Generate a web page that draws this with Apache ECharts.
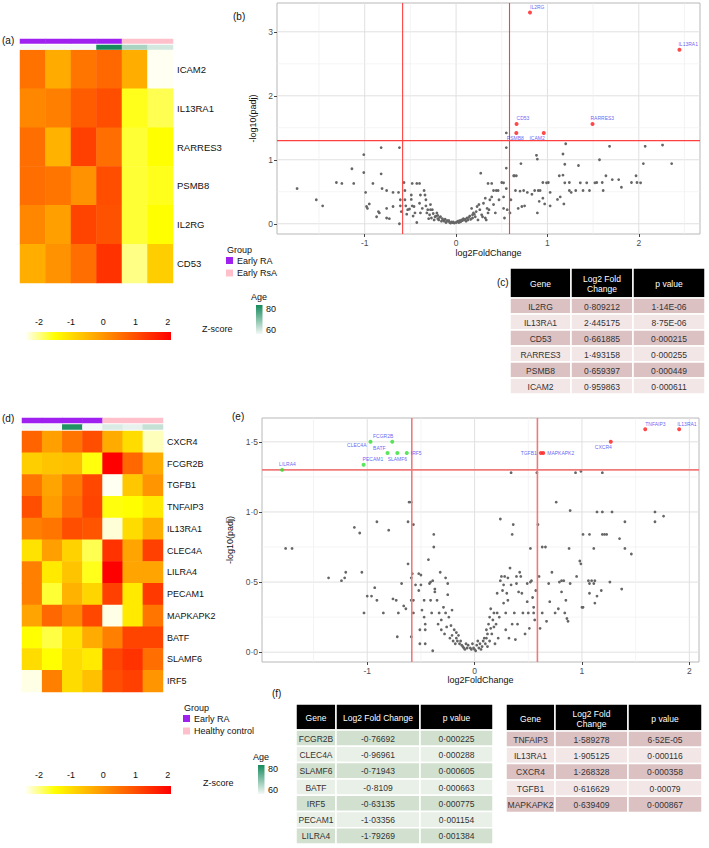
<!DOCTYPE html>
<html>
<head>
<meta charset="utf-8">
<script src="https://cdn.jsdelivr.net/npm/echarts@6/dist/echarts.min.js"></script>
<style>html,body{margin:0;padding:0;background:#fff}#chart{width:709px;height:848px}</style>
</head>
<body>
<div id="chart"></div>
<script>
// ---- data ----
const samplesA = ['s1', 's2', 's3', 's4', 's5', 's6'];
const genesA = ['ICAM2', 'IL13RA1', 'RARRES3', 'PSMB8', 'IL2RG', 'CD53'];
const zA = [
  [0.5, -0.3, 0.45, 0.65, -0.35, -2.4],
  [0.2, 0.3, 0.8, 1.0, -1.6, -1.8],
  [0.55, -0.4, 1.2, 0.55, -1.7, -1.5],
  [0.55, 0.45, 0.05, 1.0, -1.7, -1.6],
  [0.2, -0.15, 1.15, 0.95, -1.7, -1.5],
  [-0.35, 0.05, 0.55, 1.4, -2.0, -0.8]
];
const groupA = [0, 0, 0, 0, 1, 1];
const ageA = [60, 60, 60, 80, 66.7, 63];
const groupNamesA = ['Early RA', 'Early RsA'];

const samplesD = ['s1', 's2', 's3', 's4', 's5', 's6', 's7'];
const genesD = ['CXCR4', 'FCGR2B', 'TGFB1', 'TNFAIP3', 'IL13RA1', 'CLEC4A', 'LILRA4', 'PECAM1', 'MAPKAPK2', 'BATF', 'SLAMF6', 'IRF5'];
const zD = [
  [0.7, -0.15, 0.45, 1.0, -0.3, -1.0, -2.2],
  [-0.8, -0.65, -0.6, -1.55, 2.1, 0.65, -0.3],
  [0.45, -0.2, 0.4, 1.1, -2.4, -0.7, 0.0],
  [1.0, -0.1, 0.55, 1.15, -1.55, -1.5, -1.2],
  [0.3, 0.45, 1.0, 0.9, -2.3, -1.0, -0.35],
  [-1.1, -0.15, -0.85, -1.8, 1.4, -0.2, 1.2],
  [0.3, -1.2, -0.65, -1.6, 2.1, -0.2, -0.2],
  [0.3, -1.7, -0.4, -0.9, 1.2, -1.2, 1.3],
  [-0.2, 0.65, 0.2, 1.1, -2.35, -1.2, 0.45],
  [-1.5, -1.75, -1.1, -0.3, 0.3, 1.15, 1.15],
  [-1.0, -1.5, -1.0, -1.2, 1.1, 1.4, 0.55],
  [-2.35, 0.3, -1.0, -0.6, 1.0, 1.2, 0.0]
];
const groupD = [0, 0, 0, 0, 1, 1, 1];
const ageD = [60, 60, 79, 60, 62.4, 61.2, 64.2];
const groupNamesD = ['Early RA', 'Healthy control'];

const zTicks = [-2, -1, 0, 1, 2];
const ageTicks = [80, 60];

// volcano (b)
const grayB = [
  [-1.74,0.55],[-1.53,0.375],[-1.46,0.28],[-1.31,0.645],[-1.25,0.63],[-1.14,0.86],[-1.12,0.63],[-1.01,0.80],[-1.01,1.08],
  [-0.99,0.49],[-0.98,0.27],[-0.97,0.24],[-0.95,0.31],[-0.91,0.63],[-0.87,0.11],[-0.85,0.19],[-0.84,0.17],[-0.82,1.19],
  [-0.82,0.78],[-0.81,0.55],[-0.76,0.52],[-0.76,0.24],[-0.76,0.09],[-0.73,0.08],[-0.69,0.49],[-0.69,0.27],[-0.63,0.49],
  [-0.62,1.19],[-0.62,0.0],[-0.61,0.375],[-0.61,0.28],[-0.60,0.19],[-0.57,0.645],[-0.56,0.52],[-0.56,0.375],[-0.55,0.28],
  [-0.54,0.15],[-0.53,0.22],[-0.51,0.23],[-0.49,0.45],[-0.49,0.38],[-0.48,0.28],[-0.48,0.63],[-0.47,0.12],[-0.46,0.27],
  [-0.45,0.17],[-0.43,0.63],[-0.43,0.02],[-0.40,0.63],[-0.40,0.32],[-0.39,0.45],[-0.39,0.17],[-0.37,0.24],[-0.35,0.52],
  [-0.34,0.45],[-0.33,0.28],[-0.33,0.375],[-0.32,0.17],[-0.31,0.22],[-0.30,0.08],[-0.29,0.14],[-0.28,0.30],[-0.28,0.22],
  [-0.27,0.09],[-0.26,0.22],[-0.25,0.16],[-0.24,0.06],[-0.23,0.11],[-0.21,0.17],[-0.20,0.08],[-0.19,0.06],[-0.18,0.10],
  [-0.16,0.04],[-0.14,0.06],[-0.13,0.04],[-0.11,0.02],[-0.09,0.04],[-0.07,0.02],[-0.06,0.01],[-0.04,0.02],[-0.02,0.01],
  [0.0,0.02],[0.02,0.04],[0.04,0.05],[0.06,0.06],[0.08,0.08],[-0.15,0.08],[-0.12,0.07],[-0.10,0.05],[-0.08,0.05],
  [-0.05,0.03],[-0.03,0.03],[0.01,0.03],[0.03,0.02],[0.05,0.03],[0.07,0.05],[0.09,0.06],[0.10,0.07],[0.12,0.09],
  [0.14,0.10],[0.15,0.12],[0.11,0.04],[0.13,0.06],[0.16,0.07],[-0.22,0.12],[-0.20,0.13],[-0.17,0.11],[0.18,0.14],[0.20,0.15],
  [0.17,0.24],[0.19,0.17],[0.21,0.11],[0.23,0.27],[0.24,0.06],[0.26,0.22],[0.28,0.14],[0.30,0.32],[0.32,0.09],[0.34,0.24],
  [0.35,0.17],[0.37,0.375],[0.18,0.09],[0.22,0.19],[0.25,0.30],[0.29,0.11],[0.33,0.06],[0.36,0.22],[0.27,0.79],[0.35,0.63],
  [0.39,0.63],[0.32,0.40],[0.39,0.42],[0.41,0.52],[0.44,0.52],[0.46,0.52],[0.41,0.30],[0.43,0.17],[0.47,0.375],[0.50,0.645],
  [0.52,0.64],[0.52,0.42],[0.52,0.24],[0.53,0.09],[0.55,1.42],[0.55,1.19],[0.55,0.87],[0.55,0.55],[0.56,0.22],[0.59,0.17],
  [0.60,0.375],[0.63,0.75],[0.64,0.75],[0.66,0.75],[0.65,0.52],[0.68,0.24],[0.70,0.51],[0.71,0.94],[0.72,0.27],[0.74,0.52],
  [0.75,0.28],[0.78,0.49],[0.83,0.46],[0.86,0.52],[0.88,1.07],[0.89,1.01],[0.89,0.17],[0.90,0.52],[0.91,0.35],[0.92,0.52],
  [0.95,0.645],[0.95,0.40],[0.97,0.31],[0.99,0.64],[1.01,0.645],[1.03,0.49],[1.03,0.28],[1.11,0.38],[1.13,0.75],[1.14,0.42],
  [1.17,0.76],[1.17,1.09],[1.18,0.31],[1.19,0.64],[1.19,0.93],[1.20,1.25],[1.24,0.645],[1.24,0.52],[1.26,0.49],[1.31,0.52],
  [1.34,0.91],[1.36,0.64],[1.39,0.52],[1.43,0.64],[1.46,0.52],[1.52,0.64],[1.54,0.645],[1.57,1.00],[1.60,0.645],[1.61,0.52],
  [1.64,0.75],[1.68,1.21],[1.71,0.69],[1.78,0.69],[1.81,0.57],[1.92,0.645],[1.97,0.75],[1.98,0.645],[2.02,0.64],[2.05,0.94],
  [2.07,1.21],[2.26,1.23],[2.36,0.94]
];
const sigGenesB = ['IL2RG', 'IL13RA1', 'CD53', 'RARRES3', 'PSMB8', 'ICAM2'];
const sigFcB = [0.809212, 2.445175, 0.661885, 1.493158, 0.659397, 0.959863];
const sigPadjB = [3.30, 2.72, 1.56, 1.56, 1.42, 1.42];
const pC = ['1·14E-06', '8·75E-06', '0·000215', '0·000255', '0·000449', '0·000611'];

// volcano (e)
const grayE = [
  [-1.76,0.74],[-1.70,0.74],[-1.36,0.53],[-1.24,0.51],[-1.21,0.53],[-1.20,0.57],[-1.12,0.89],[-1.07,0.85],[-1.05,0.57],
  [-1.03,0.28],[-1.00,0.40],[-0.96,0.40],[-0.93,0.46],[-0.91,0.93],[-0.91,0.37],[-0.85,0.28],[-0.80,0.87],[-0.76,0.38],
  [-0.73,0.37],[-0.72,0.11],[-0.71,0.28],[-0.68,0.49],[-0.66,0.33],[-0.64,0.31],[-0.62,0.63],[-0.62,0.93],[-0.61,1.07],
  [-0.59,1.07],[-0.59,0.53],[-0.59,0.37],[-0.59,0.11],[-0.58,0.56],[-0.57,0.91],[-0.57,0.37],[-0.57,0.28],[-0.55,0.48],
  [-0.52,0.56],[-0.52,0.44],[-0.50,0.55],[-0.49,0.30],[-0.47,0.25],[-0.46,0.20],[-0.46,0.16],[-0.51,0.06],[-0.51,0.16],
  [-0.50,0.48],[-0.47,0.37],[-0.46,0.06],[-0.43,0.66],[-0.42,0.49],[-0.41,0.37],[-0.41,0.50],[-0.40,0.28],[-0.39,0.51],
  [-0.39,0.01],[-0.38,0.84],[-0.38,0.75],[-0.37,0.45],[-0.37,0.43],[-0.35,0.37],[-0.34,0.20],[-0.33,0.28],[-0.32,0.57],
  [-0.31,0.16],[-0.31,0.23],[-0.29,0.32],[-0.28,0.13],[-0.27,0.28],[-0.27,0.53],[-0.26,0.18],[-0.25,0.49],[-0.25,0.41],
  [-0.24,0.25],[-0.23,0.10],[-0.22,0.19],[-0.21,0.30],[-0.20,0.08],[-0.19,0.16],[-0.18,0.06],[-0.17,0.10],[-0.16,0.08],
  [-0.14,0.06],[-0.13,0.08],[-0.11,0.04],[-0.10,0.03],[-0.08,0.06],[-0.07,0.03],[-0.04,0.03],[-0.03,0.02],[-0.01,0.03],
  [0.00,0.02],[0.02,0.05],[0.04,0.03],[0.05,0.06],[0.07,0.04],[0.08,0.08],[0.10,0.06],[0.11,0.10],[0.11,0.16],[0.13,0.20],
  [0.14,0.08],[0.14,0.25],[0.15,0.31],[0.16,0.13],[0.17,0.23],[0.18,0.28],[0.18,0.18],[0.19,0.06],[0.20,0.20],[0.21,0.42],
  [0.21,0.28],[0.22,0.10],[0.23,0.25],[0.24,0.95],[0.24,0.51],[0.25,0.54],[0.26,0.44],[0.27,0.35],[0.27,0.48],[0.28,0.54],
  [0.29,0.28],[0.29,0.16],[0.30,0.42],[0.31,0.53],[0.31,0.37],[0.32,0.10],[0.33,0.60],[0.34,0.48],[0.35,0.20],[0.35,0.84],
  [0.36,0.91],[0.37,0.28],[0.38,0.09],[0.39,0.54],[0.39,0.49],[0.40,0.20],[0.41,0.43],[0.42,0.57],[0.43,0.54],[0.44,0.42],
  [0.45,0.28],[0.47,0.13],[0.49,0.49],[0.49,0.36],[0.50,0.28],[0.51,0.17],[0.52,0.50],[0.52,0.74],[0.53,0.51],[0.54,0.39],
  [0.55,0.32],[0.55,0.28],[0.56,0.23],[0.57,0.44],[0.58,1.28],[0.59,0.91],[0.60,0.54],[0.61,0.17],[0.63,0.28],[0.63,0.75],
  [0.66,0.75],[0.67,0.22],[0.69,0.49],[0.70,0.36],[0.72,0.57],[0.75,0.28],[0.76,1.07],[0.78,0.31],[0.79,0.50],[0.81,0.43],
  [0.81,0.51],[0.83,0.51],[0.84,0.28],[0.85,0.37],[0.86,0.24],[0.87,0.22],[0.88,0.74],[0.89,1.01],[0.89,0.49],[0.94,1.28],
  [0.95,0.54],[0.98,0.65],[0.99,0.63],[0.99,1.29],[1.00,0.32],[1.01,0.84],[1.01,0.32],[1.06,0.51],[1.07,0.49],[1.07,0.84],
  [1.07,0.42],[1.09,0.51],[1.11,0.49],[1.11,0.74],[1.12,0.35],[1.12,0.51],[1.14,0.40],[1.14,1.00],[1.19,1.28],[1.19,1.00],
  [1.19,0.84],[1.18,0.44],[1.21,0.84],[1.23,0.84],[1.26,0.50],[1.28,1.00],[1.35,0.81],[1.37,0.45],[1.40,0.93],[1.40,0.74],
  [1.46,0.70],[1.68,1.00],[1.68,0.93],[1.76,0.97],[0.34,1.28],
  [-0.12,0.05],[-0.09,0.02],[-0.06,0.05],[-0.02,0.06],[0.01,0.01],[0.03,0.08],[0.06,0.02],[0.09,0.10],[0.12,0.13],
  [-0.15,0.12],[-0.17,0.14],[-0.21,0.12],[0.15,0.17],[0.12,0.04]
];
const downGenesE = ['FCGR2B', 'CLEC4A', 'SLAMF6', 'BATF', 'IRF5', 'PECAM1', 'LILRA4'];
const downFcE = [-0.76692, -0.96961, -0.71943, -0.8109, -0.63135, -1.03356, -1.79269];
const downPadjE = [1.50, 1.50, 1.42, 1.42, 1.42, 1.336, 1.30];
const downPE = ['0·000225', '0·000288', '0·000605', '0·000663', '0·000775', '0·001154', '0·001384'];
const upGenesE = ['TNFAIP3', 'IL13RA1', 'CXCR4', 'TGFB1', 'MAPKAPK2'];
const upFcE = [1.589278, 1.905125, 1.268328, 0.616629, 0.639409];
const upPadjE = [1.59, 1.59, 1.50, 1.42, 1.42];
const upPE = ['6·52E-05', '0·000116', '0·000358', '0·00079', '0·000867'];

const fcCut = 0.585;
const padjCut = 1.3;
const ticksBx = [-1, 0, 1, 2];
const ticksBy = [0, 1, 2, 3];
const minorBx = [-1.5, -0.5, 0.5, 1.5, 2.5];
const minorBy = [0.5, 1.5, 2.5];
const ticksEx = [-1, 0, 1, 2];
const ticksEy = [0, 0.5, 1, 1.5];
const minorEx = [-1.5, -0.5, 0.5, 1.5];
const minorEy = [0.25, 0.75, 1.25];

// ---- styling ----
const FONT = "'Liberation Sans', Arial, sans-serif";
const zMin = -2.4, zMax = 2.1;
const zColors = ['#fffff2', '#ffff00', '#ffc000', '#ff8000', '#ff4000', '#ff0000'];
const ageColors = ['#f4f8f6', '#168a5c'];
const groupColors = ['#a020f0', '#ffc0cb'];
const labelBlue = '#3a3af0';

const fmtDot = v => String(v).replace('.', '·');

function cells(m) {
  const out = [];
  m.forEach((row, r) => row.forEach((v, c) => out.push([c, r, v])));
  return out;
}
function annot(arr) { return arr.map((v, c) => [c, 0, v]); }

const chart = echarts.init(document.getElementById('chart'), null, { renderer: 'svg' });

const heatGrids = [
  { left: 20, top: 50, width: 153, height: 233 },
  { left: 20, top: 39, width: 153, height: 4.5 },
  { left: 20, top: 45, width: 153, height: 4.5 },
  { left: 22, top: 431, width: 141, height: 261 },
  { left: 22, top: 418, width: 141, height: 5 },
  { left: 22, top: 424.5, width: 141, height: 5 }
];
const volcGrids = [
  { left: 277, top: 3, width: 423, height: 231, show: true, borderColor: '#b8b8b8', borderWidth: 1 },
  { left: 262, top: 418, width: 437, height: 244, show: true, borderColor: '#b8b8b8', borderWidth: 1 }
];

const hiddenX = d => ({ type: 'category', data: d, show: false });
const hiddenY = { type: 'category', data: ['a'], show: false };
const geneY = (genes, gi, fs) => ({
  type: 'category', data: genes, gridIndex: gi, inverse: true, position: 'right',
  axisLine: { show: false }, axisTick: { show: false }, splitLine: { show: false },
  axisLabel: { color: '#111', fontSize: fs, fontFamily: FONT, margin: 4 }
});

function valueAxis(gi, min, max, ticks, name, gap, fmt) {
  return {
    type: 'value', gridIndex: gi, min: min, max: max,
    name: name, nameLocation: 'middle', nameGap: gap,
    nameTextStyle: { fontSize: 9, color: '#111', fontFamily: FONT },
    axisLine: { show: false, onZero: false },
    axisTick: { show: true, length: 3, customValues: ticks, lineStyle: { color: '#444' } },
    axisLabel: { customValues: ticks, fontSize: 8.5, color: '#4d4d4d', fontFamily: FONT, margin: 4, formatter: fmt },
    splitLine: { show: false }
  };
}

const xAxes = [
  Object.assign(hiddenX(samplesA), { gridIndex: 0 }),
  Object.assign(hiddenX(samplesA), { gridIndex: 1 }),
  Object.assign(hiddenX(samplesA), { gridIndex: 2 }),
  Object.assign(hiddenX(samplesD), { gridIndex: 3 }),
  Object.assign(hiddenX(samplesD), { gridIndex: 4 }),
  Object.assign(hiddenX(samplesD), { gridIndex: 5 }),
  valueAxis(6, -1.96, 2.67, ticksBx, 'log2FoldChange', 14, v => String(v)),
  valueAxis(7, -1.98, 2.09, ticksEx, 'log2FoldChange', 11, v => String(v))
];
const yAxes = [
  geneY(genesA, 0, 9.5),
  Object.assign({}, hiddenY, { gridIndex: 1 }),
  Object.assign({}, hiddenY, { gridIndex: 2 }),
  geneY(genesD, 3, 9),
  Object.assign({}, hiddenY, { gridIndex: 4 }),
  Object.assign({}, hiddenY, { gridIndex: 5 }),
  valueAxis(6, -0.16, 3.45, ticksBy, '-log10(padj)', 11, v => String(v)),
  valueAxis(7, -0.07, 1.67, ticksEy, '-log10(padj)', 15, v => v.toFixed(1).replace('.', '·'))
];

function heat(xi, data) {
  return { type: 'heatmap', xAxisIndex: xi, yAxisIndex: xi, data: data, itemStyle: { borderWidth: 0 }, emphasis: { disabled: true }, progressive: 0 };
}

// reference lines across the panel: rows of [direction (0 vertical, 1 horizontal), value, style key]
function refLines(xi, rows, styles, z) {
  return {
    type: 'custom', xAxisIndex: xi, yAxisIndex: xi, silent: true, z: z, clip: false,
    data: rows,
    renderItem: function (params, api) {
      const cs = params.coordSys;
      const dir = api.value(0), v = api.value(1), st = styles[api.value(2)];
      let shape;
      if (dir === 0) {
        const px = api.coord([v, 0])[0];
        shape = { x1: px, y1: cs.y, x2: px, y2: cs.y + cs.height };
      } else {
        const py = api.coord([0, v])[1];
        shape = { x1: cs.x, y1: py, x2: cs.x + cs.width, y2: py };
      }
      return { type: 'line', shape: shape, style: { stroke: st.color, lineWidth: st.width, fill: null } };
    }
  };
}
const gridStyles = [{ color: '#e0e0e0', width: 1 }, { color: '#efefef', width: 0.7 }];
function gridRows(mx, my, nx, ny) {
  return mx.map(v => [0, v, 0]).concat(my.map(v => [1, v, 0]), nx.map(v => [0, v, 1]), ny.map(v => [1, v, 1]));
}
const cutRows = [[0, -fcCut, 0], [0, fcCut, 0], [1, padjCut, 0]];

function grayPts(xi, pts) {
  return { type: 'scatter', xAxisIndex: xi, yAxisIndex: xi, data: pts, symbolSize: 2.8, z: 3,
    itemStyle: { color: '#666', opacity: 1 }, emphasis: { disabled: true } };
}
// label placement: [position, align, offsetX, offsetY]
const labelPos = {
  B: {
    IL2RG: ['top', 'left', 0, 1], IL13RA1: ['top', 'left', -1, 1], CD53: ['top', 'left', 0, 1],
    RARRES3: ['top', 'left', -2, 1], PSMB8: ['bottom', 'center', -1, -1], ICAM2: ['bottom', 'right', 1, -1]
  },
  E: {
    LILRA4: ['top', 'left', -3, 1], PECAM1: ['top', 'left', -1, 1], CLEC4A: ['left', 'right', 0, 3],
    FCGR2B: ['top', 'right', 1, 1], BATF: ['top', 'right', -2, 1], SLAMF6: ['bottom', 'center', 0, -1],
    IRF5: ['right', 'left', 0, 0], TGFB1: ['left', 'right', 0, 0], MAPKAPK2: ['right', 'left', 0, 0],
    CXCR4: ['bottom', 'right', 1, -1], TNFAIP3: ['top', 'left', 0, 1], IL13RA1: ['top', 'left', -2, 1]
  }
};
function sigPts(xi, genes, fc, padj, color, posMap) {
  return {
    type: 'scatter', xAxisIndex: xi, yAxisIndex: xi, symbolSize: 4, z: 5,
    itemStyle: { color: color }, emphasis: { disabled: true },
    label: { show: true, formatter: '{b}', fontSize: 5, color: labelBlue, fontFamily: FONT, distance: 2 },
    data: genes.map((g, i) => {
      const p = posMap[g];
      return { name: g, value: [fc[i], padj[i]], label: { position: p[0], align: p[1], offset: [p[2], p[3]] } };
    })
  };
}

const series = [
  heat(0, cells(zA)),
  heat(1, annot(groupA)),
  heat(2, annot(ageA)),
  heat(3, cells(zD)),
  heat(4, annot(groupD)),
  heat(5, annot(ageD)),
  refLines(6, gridRows(ticksBx, ticksBy, minorBx, minorBy), gridStyles, 2),
  grayPts(6, grayB),
  refLines(6, cutRows, [{ color: '#ff4040', width: 1.1 }], 4),
  sigPts(6, sigGenesB, sigFcB, sigPadjB, '#ff1a1a', labelPos.B),
  refLines(7, gridRows(ticksEx, ticksEy, minorEx, minorEy), gridStyles, 2),
  grayPts(7, grayE),
  refLines(7, cutRows, [{ color: '#f07a7a', width: 1.6 }], 4),
  sigPts(7, downGenesE, downFcE, downPadjE, '#2fe02f', labelPos.E),
  sigPts(7, upGenesE, upFcE, upPadjE, '#ff1a1a', labelPos.E)
];

// ---- graphic: panel letters, legends, tables ----
const G = [];
function txt(x, y, s, o) {
  o = o || {};
  G.push({ type: 'text', x: x, y: y, silent: true, style: {
    text: s, fill: o.fill || '#111', fontSize: o.fs || 9, fontFamily: FONT,
    align: o.align || 'left', verticalAlign: o.va || 'middle',
    textAlign: o.align || 'left', textVerticalAlign: o.va || 'middle', lineHeight: o.lh || 10
  } });
}
function rect(x, y, w, h, fill, stroke, lw) {
  G.push({ type: 'rect', silent: true, shape: { x: x, y: y, width: w, height: h },
    style: { fill: fill, stroke: stroke || null, lineWidth: lw || 0 } });
}
[['(a)', 2, 40], ['(b)', 233, 16], ['(c)', 497, 282], ['(d)', 2, 418], ['(e)', 232, 416], ['(f)', 272, 693]]
  .forEach(p => txt(p[1], p[2], p[0], { fs: 10 }));

function groupLegend(x, y, names) {
  txt(x + 1, y, 'Group', { fs: 9 });
  names.forEach((n, i) => {
    rect(x, y + 7 + i * 12.5, 7, 7, groupColors[i]);
    txt(x + 11, y + 10.5 + i * 12.5, n, { fs: 9 });
  });
}
groupLegend(226, 250, groupNamesA);
groupLegend(183, 708, groupNamesD);

function ageLegend(x, y, h) {
  txt(x + 3, y, 'Age', { fs: 9, align: 'center' });
  rect(x, y + 8, 6.5, h, { type: 'linear', x: 0, y: 0, x2: 0, y2: 1,
    colorStops: [{ offset: 0, color: ageColors[1] }, { offset: 1, color: ageColors[0] }] });
  txt(x + 10, y + 12, String(ageTicks[0]), { fs: 9 });
  txt(x + 10, y + h + 4, String(ageTicks[1]), { fs: 9 });
}
ageLegend(256, 297, 29);
ageLegend(258, 757, 29);

function zLegend(x, y, w, tickY, titleX, titleY) {
  const stops = zColors.map((c, i) => ({ offset: i / (zColors.length - 1), color: c }));
  rect(x, y, w, 8, { type: 'linear', x: 0, y: 0, x2: 1, y2: 0, colorStops: stops });
  zTicks.forEach(t => txt(x + (t - zMin) / (zMax - zMin) * w, tickY, String(t), { fs: 9, align: 'center' }));
  txt(titleX, titleY, 'Z-score', { fs: 9 });
}
zLegend(26, 332, 145, 322, 202, 329);
zLegend(26, 786, 145, 775, 203, 783);

function table(x0, y0, colW, headH, rowH, headers, rows, dark, light) {
  let x = x0;
  headers.forEach((h, c) => {
    rect(x, y0, colW[c], headH, '#000', '#fff', 1.5);
    txt(x + colW[c] / 2, y0 + headH / 2 + 1, h, { fill: '#fff', fs: 8.5, align: 'center', lh: 10 });
    x += colW[c];
  });
  rows.forEach((r, i) => {
    let xx = x0;
    const y = y0 + headH + i * rowH;
    r.forEach((v, c) => {
      rect(xx, y, colW[c], rowH, i % 2 === 0 ? dark : light, '#fff', 1.5);
      txt(xx + colW[c] / 2, y + rowH / 2 + 0.5, v, { fill: '#333', fs: 8.5, align: 'center' });
      xx += colW[c];
    });
  });
}
const roseDark = '#dcc1c3', roseLight = '#f2e6e7';
const greenDark = '#d2e1cf', greenLight = '#e9f0e7';
table(510, 268, [61, 62, 72], 30, 16, ['Gene', 'Log2 Fold\nChange', 'p value'],
  sigGenesB.map((g, i) => [g, fmtDot(sigFcB[i]), pC[i]]), roseDark, roseLight);
table(296, 704, [40, 84, 73], 26, 16.3, ['Gene', 'Log2 Fold Change', 'p value'],
  downGenesE.map((g, i) => [g, fmtDot(downFcE[i]), downPE[i]]), greenDark, greenLight);
table(506, 704, [49, 73, 74], 27, 16.3, ['Gene', 'Log2 Fold\nChange', 'p value'],
  upGenesE.map((g, i) => [g, fmtDot(upFcE[i]), upPE[i]]), roseDark, roseLight);

chart.setOption({
  backgroundColor: '#fff',
  animation: false,
  textStyle: { fontFamily: FONT },
  grid: heatGrids.concat(volcGrids),
  xAxis: xAxes,
  yAxis: yAxes,
  visualMap: [
    { type: 'continuous', show: false, min: zMin, max: zMax, seriesIndex: [0, 3], inRange: { color: zColors } },
    { type: 'piecewise', show: false, seriesIndex: [1, 4],
      pieces: [{ value: 0, color: groupColors[0] }, { value: 1, color: groupColors[1] }] },
    { type: 'continuous', show: false, min: 60, max: 80, seriesIndex: [2, 5], inRange: { color: ageColors } }
  ],
  series: series,
  graphic: G
});
</script>
</body>
</html>
